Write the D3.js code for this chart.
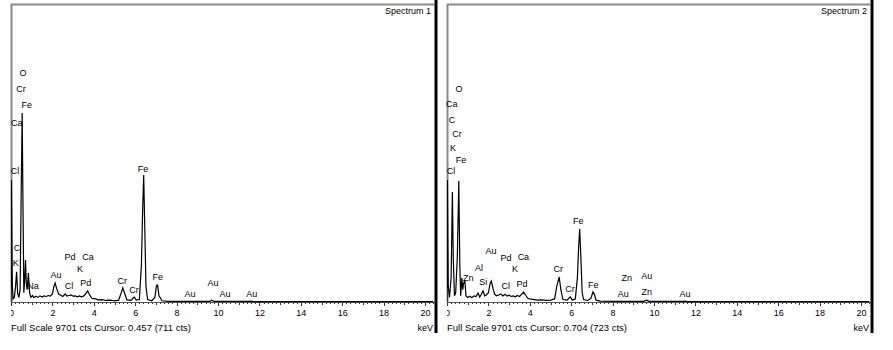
<!DOCTYPE html>
<html><head><meta charset="utf-8">
<script src="https://cdn.jsdelivr.net/npm/d3@7/dist/d3.min.js"></script>
<style>
html,body{margin:0;padding:0;background:#fff;}
svg{display:block;font-family:"Liberation Sans",Arial,sans-serif;}
</style></head>
<body>
<svg id="chart" width="893" height="350"></svg>
<script>
// ---------- DATA ----------
const fullScale = 9701;
const xTicks = [0,2,4,6,8,10,12,14,16,18,20];
const titles = ["Spectrum 1","Spectrum 2"];
const footers = ["Full Scale 9701 cts Cursor: 0.457  (711 cts)","Full Scale 9701 cts Cursor: 0.704  (723 cts)"];

const energy1 = [0,0.02,0.06,0.10,0.16,0.22,0.27,0.32,0.38,0.44,0.50,0.54,0.58,0.62,0.66,0.70,0.74,0.78,0.84,0.90,0.96,1.04,1.10,1.2,1.3,1.4,1.5,1.6,1.7,1.8,1.9,2.0,2.07,2.13,2.2,2.3,2.4,2.5,2.62,2.7,2.8,2.9,3.0,3.1,3.2,3.3,3.4,3.5,3.6,3.7,3.8,3.9,4.0,4.1,4.2,4.4,4.6,4.8,5.0,5.2,5.3,5.4,5.48,5.6,5.8,5.9,5.96,6.05,6.2,6.3,6.36,6.41,6.46,6.52,6.6,6.8,6.95,7.03,7.08,7.15,7.3,7.6,8.0,9.6,9.7,9.8,11.5,11.6,11.7,20,20.4];
const counts1 = [0,3970,600,100,150,500,980,300,150,400,4000,6150,3000,300,700,1370,600,400,940,300,150,210,140,190,150,200,160,200,180,210,190,260,500,620,450,260,220,180,260,190,210,230,190,200,170,200,170,190,260,360,230,120,110,100,70,80,50,60,40,60,250,456,300,70,50,130,160,60,80,1200,3000,4130,2500,500,80,40,150,540,550,200,40,20,20,20,60,20,20,30,15,10,10];

const energy2 = [0,0.02,0.06,0.12,0.2,0.26,0.30,0.36,0.42,0.5,0.57,0.62,0.66,0.72,0.76,0.80,0.86,0.92,1.0,1.1,1.2,1.3,1.4,1.5,1.58,1.66,1.74,1.82,1.9,2.0,2.08,2.14,2.22,2.3,2.4,2.5,2.6,2.7,2.8,2.9,3.0,3.1,3.2,3.3,3.4,3.5,3.6,3.7,3.8,3.9,4.0,4.2,4.4,4.6,4.8,5.0,5.2,5.3,5.42,5.5,5.6,5.8,5.9,5.96,6.05,6.2,6.3,6.36,6.41,6.47,6.53,6.6,6.8,6.95,7.05,7.12,7.2,7.4,8.0,8.6,8.7,9.5,9.65,9.75,11.4,11.5,11.6,20,20.4];
const counts2 = [0,3970,500,150,800,3580,1500,200,300,1500,3940,1200,200,780,400,600,700,200,150,190,140,200,180,290,160,250,360,200,230,300,600,680,450,250,200,230,260,200,250,190,220,180,200,170,210,180,250,325,220,120,100,80,60,70,50,60,100,500,814,400,80,60,130,165,60,100,800,1800,2376,1400,300,80,50,120,325,250,60,30,20,25,20,20,60,20,20,30,15,10,10];

const labels1 = ["O","Cr","Fe","Ca","Cl","C","K","Na","Au","Pd","Ca","K","Cl","Pd","Cr","Cr","Fe","Fe","Au","Au","Au","Au"];
const labelKeV1 = [0.58,0.48,0.76,0.28,0.19,0.29,0.23,1.06,2.17,2.85,3.72,3.33,2.80,3.61,5.38,5.94,6.38,7.09,8.65,9.76,10.34,11.63];
const labelCts1 = [7421,6900,6380,5794,4232,1725,1237,488,846,1432,1432,1042,488,586,651,358,4297,781,228,586,228,228];

const labels2 = ["O","Ca","C","Cr","K","Fe","Cl","Fe","Au","Pd","Ca","Al","K","Zn","Si","Cl","Pd","Cr","Cr","Fe","Zn","Au","Au","Zn","Au"];
const labelKeV2 = [0.58,0.23,0.24,0.48,0.29,0.68,0.19,6.34,2.13,2.85,3.69,1.55,3.29,1.03,1.75,2.84,3.62,5.38,5.94,7.07,8.68,8.52,9.65,9.65,11.50];
const labelCts2 = [6900,6412,5892,5436,4980,4590,4232,2604,1637,1400,1442,1097,1042,749,628,498,553,1042,390,521,749,228,814,293,228];

// ---------- DRAW ----------
const svg = d3.select("#chart");
const panels = [
  {e:energy1,c:counts1,lab:labels1,lk:labelKeV1,lc:labelCts1},
  {e:energy2,c:counts2,lab:labels2,lk:labelKeV2,lc:labelCts2}
];
const panelOffset = 436;

panels.forEach((p,i)=>{
  const ox = i*panelOffset;
  const g = svg.append("g").attr("transform",`translate(${ox},0)`);
  const x = d3.scaleLinear().domain([0,20]).range([11,425]);
  const y = d3.scaleLinear().domain([0,fullScale]).range([302,4]);
  const clipId = "clip"+i;
  g.append("clipPath").attr("id",clipId).append("rect")
    .attr("x",11).attr("y",0).attr("width",425).attr("height",350);

  // frame (top and left gray)
  g.append("line").attr("x1",11).attr("x2",434).attr("y1",4.5).attr("y2",4.5)
    .attr("stroke","#8a8a8a").attr("stroke-width",2);
  g.append("line").attr("x1",11.5).attr("x2",11.5).attr("y1",4).attr("y2",302)
    .attr("stroke","#8a8a8a").attr("stroke-width",2);

  // minor ticks
  const minor = d3.range(0,20.41,0.2).map(v=>Math.round(v*10)/10);
  const gAx = g.append("g").attr("clip-path",`url(#${clipId})`);
  gAx.selectAll("line.mt").data(minor).join("line")
    .attr("x1",d=>Math.round(x(d))+0.5).attr("x2",d=>Math.round(x(d))+0.5)
    .attr("y1",302).attr("y2",d=>{
      const r = Math.round(d*10);
      return 302 + (r%20===0?4:(r%10===0?3:2));
    })
    .attr("stroke","#333").attr("stroke-width",1);
  // baseline
  g.append("line").attr("x1",11).attr("x2",435).attr("y1",302.5).attr("y2",302.5)
    .attr("stroke","#555").attr("stroke-width",1);

  // tick labels via axis
  const axis = d3.axisBottom(x).tickValues(xTicks).tickSize(0).tickPadding(8)
    .tickFormat(d3.format("d"));
  const ga = gAx.append("g").attr("transform","translate(0,302)").call(axis);
  ga.select(".domain").remove();
  ga.selectAll("text").attr("font-size",9).attr("fill","#000")
    .attr("font-family","'Liberation Sans',Arial,sans-serif");

  // spectrum
  const line = d3.line().x((d,k)=>x(p.e[k])).y((d,k)=>y(p.c[k]));
  g.append("path").attr("clip-path",`url(#${clipId})`)
    .datum(p.c).attr("d",line).attr("fill","none")
    .attr("stroke","#000").attr("stroke-width",1.2).attr("stroke-linejoin","miter");

  // peak labels
  g.append("g").selectAll("text").data(p.lab).join("text")
    .attr("x",(d,k)=>x(p.lk[k])).attr("y",(d,k)=>y(p.lc[k]))
    .attr("text-anchor","middle").attr("dominant-baseline","middle")
    .attr("font-size",9).attr("fill","#000").text(d=>d);

  // title
  g.append("text").attr("x",431).attr("y",14).attr("text-anchor","end")
    .attr("font-size",9).attr("fill","#000").text(titles[i]);
  // keV
  g.append("text").attr("x",433).attr("y",331).attr("text-anchor","end")
    .attr("font-size",9).attr("fill","#000").text("keV");
  // footer
  g.append("text").attr("x",11).attr("y",331)
    .attr("font-size",9.5).attr("fill","#000")
    .attr("textLength",180).attr("lengthAdjust","spacing").text(footers[i]);

  // black right border
  g.append("line").attr("x1",436).attr("x2",436).attr("y1",0).attr("y2",333)
    .attr("stroke","#000").attr("stroke-width",3);
});
</script>
</body></html>
